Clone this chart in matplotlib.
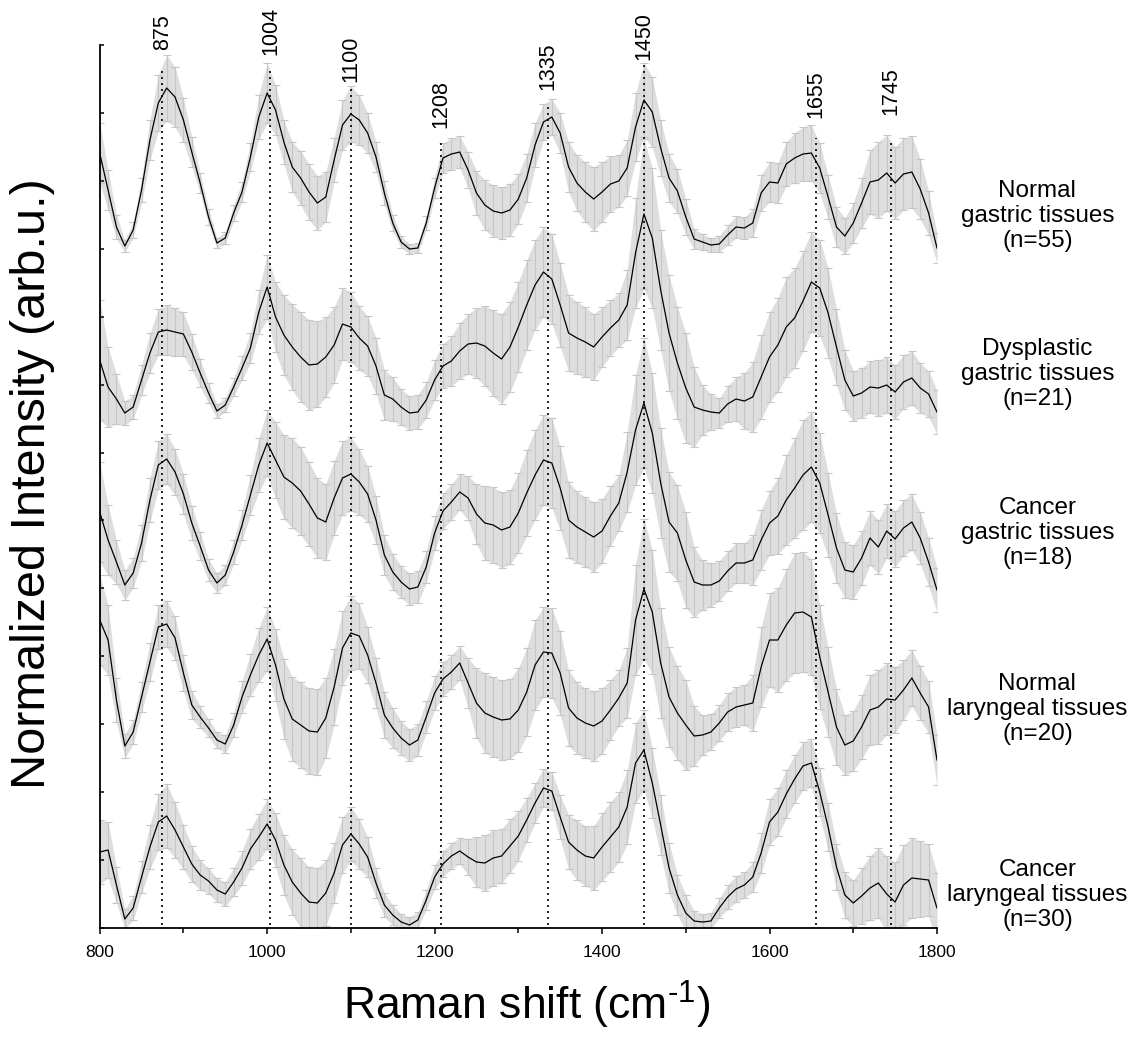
import numpy as np
import matplotlib
matplotlib.use("Agg")
import matplotlib.pyplot as plt

plt.rcParams['font.family'] = ['Liberation Sans', 'DejaVu Sans']
plt.rcParams['mathtext.fontset'] = 'custom'
plt.rcParams['mathtext.rm'] = 'Liberation Sans'
plt.rcParams['mathtext.it'] = 'Liberation Sans:italic'

# Raman shift axis (cm-1), one sample every 10 cm-1
shift = np.arange(800, 1801, 10)

# mean spectra, already stacked with their vertical offsets (arb.u.)
normal_gastric = [
    775, 738, 701, 682, 698, 738, 788, 825, 840, 831,
    808, 776, 745, 711, 685, 690, 715, 736, 771, 811,
    835, 818, 786, 761, 750, 736, 725, 731, 768, 803,
    814, 808, 795, 771, 735, 705, 686, 679, 680, 705,
    740, 770, 774, 776, 758, 735, 723, 717, 715, 718,
    729, 750, 783, 806, 811, 795, 761, 745, 736, 729,
    736, 744, 747, 760, 801, 828, 816, 780, 750, 737,
    711, 689, 686, 683, 684, 693, 701, 700, 705, 735,
    746, 745, 764, 770, 774, 775, 760, 731, 701, 692,
    705, 725, 746, 748, 755, 745, 754, 756, 739, 715,
    680]
normal_gastric_sd = [
    30, 20, 12, 6, 8, 12, 20, 28, 33, 30,
    22, 15, 10, 8, 5, 6, 8, 10, 14, 22,
    30, 25, 22, 25, 27, 28, 27, 25, 22, 25,
    28, 25, 20, 15, 12, 8, 6, 5, 5, 7,
    10, 15, 16, 16, 18, 22, 25, 26, 26, 26,
    25, 24, 22, 18, 18, 20, 25, 28, 30, 32,
    30, 28, 26, 28, 34, 37, 35, 28, 24, 22,
    18, 10, 8, 7, 8, 10, 11, 11, 14, 18,
    20, 20, 22, 25, 27, 28, 25, 22, 20, 18,
    20, 25, 32, 38, 38, 36, 36, 36, 30, 22,
    15]

dysplastic_gastric = [
    568, 541, 529, 515, 521, 548, 575, 596, 598, 596,
    594, 576, 555, 535, 517, 523, 541, 560, 580, 616,
    641, 611, 593, 581, 571, 563, 564, 571, 583, 604,
    601, 590, 582, 562, 533, 529, 521, 515, 516, 528,
    548, 562, 567, 577, 584, 585, 582, 575, 569, 581,
    601, 623, 643, 656, 649, 623, 595, 590, 586, 581,
    591, 600, 608, 623, 675, 714, 690, 638, 595, 565,
    540, 521, 518, 516, 515, 524, 529, 527, 531, 551,
    571, 583, 601, 610, 627, 646, 640, 615, 581, 548,
    532, 535, 541, 540, 543, 536, 546, 550, 540, 534,
    516]
dysplastic_gastric_sd = [
    60, 40, 25, 12, 12, 15, 20, 23, 25, 24,
    22, 18, 14, 10, 7, 7, 9, 12, 15, 22,
    32, 35, 40, 43, 45, 45, 43, 40, 38, 36,
    35, 32, 30, 28, 25, 22, 18, 17, 17, 18,
    20, 22, 25, 28, 30, 35, 40, 43, 45, 45,
    45, 45, 45, 45, 45, 42, 38, 36, 35, 33,
    30, 28, 27, 35, 55, 75, 70, 60, 58, 56,
    55, 40, 25, 18, 15, 18, 22, 28, 35, 42,
    45, 47, 50, 50, 50, 50, 48, 45, 38, 30,
    25, 25, 26, 28, 28, 27, 27, 27, 25, 23,
    22]

cancer_gastric = [
    416, 388, 366, 343, 355, 385, 428, 463, 469, 456,
    434, 405, 382, 358, 345, 353, 376, 403, 433, 463,
    485, 468, 451, 445, 437, 424, 410, 406, 430, 450,
    454, 446, 434, 408, 373, 356, 346, 339, 341, 361,
    395, 417, 426, 436, 430, 414, 405, 403, 398, 401,
    415, 435, 453, 468, 465, 440, 408, 401, 396, 391,
    397, 412, 425, 456, 498, 525, 495, 445, 406, 395,
    368, 346, 343, 343, 347, 357, 365, 365, 368, 388,
    405, 412, 428, 440, 453, 461, 445, 413, 380, 358,
    356, 370, 390, 381, 397, 389, 400, 406, 390, 366,
    338]
cancer_gastric_sd = [
    50, 35, 22, 15, 15, 18, 22, 24, 25, 23,
    20, 17, 14, 11, 10, 10, 12, 15, 20, 27,
    33, 38, 42, 45, 44, 42, 40, 38, 37, 37,
    37, 33, 28, 24, 20, 18, 16, 16, 16, 16,
    17, 18, 18, 18, 22, 30, 37, 38, 38, 37,
    40, 43, 45, 45, 45, 42, 38, 36, 35, 35,
    32, 30, 28, 40, 55, 65, 60, 55, 50, 48,
    48, 35, 25, 22, 20, 20, 20, 20, 25, 30,
    32, 38, 45, 50, 55, 55, 50, 42, 35, 28,
    27, 27, 27, 27, 27, 28, 28, 28, 26, 24,
    22]

normal_laryngeal = [
    308, 288, 228, 182, 196, 231, 266, 301, 304, 290,
    255, 223, 211, 200, 188, 184, 203, 231, 253, 273,
    289, 263, 229, 209, 203, 197, 196, 210, 241, 280,
    295, 292, 273, 245, 213, 200, 190, 183, 188, 211,
    235, 249, 256, 265, 245, 225, 215, 211, 208, 209,
    218, 236, 263, 276, 275, 255, 220, 210, 205, 202,
    207, 218, 230, 245, 308, 339, 316, 265, 231, 215,
    203, 192, 193, 196, 205, 216, 221, 223, 225, 261,
    288, 288, 303, 315, 316, 311, 271, 236, 201, 183,
    187, 201, 218, 221, 229, 228, 238, 250, 235, 221,
    168]
normal_laryngeal_sd = [
    45, 35, 22, 12, 12, 15, 19, 22, 23, 22,
    18, 14, 11, 9, 8, 9, 12, 16, 21, 27,
    32, 36, 40, 42, 43, 43, 43, 40, 38, 37,
    37, 33, 28, 25, 23, 20, 17, 16, 16, 16,
    17, 17, 17, 17, 25, 35, 40, 40, 40, 40,
    42, 44, 45, 45, 45, 42, 38, 36, 35, 35,
    33, 30, 28, 35, 55, 70, 62, 55, 50, 47,
    45, 30, 20, 18, 18, 19, 20, 20, 28, 40,
    47, 52, 56, 60, 60, 58, 52, 45, 38, 30,
    30, 32, 35, 37, 36, 33, 30, 28, 27, 26,
    25]

cancer_laryngeal = [
    76, 78, 43, 9, 20, 51, 81, 106, 112, 98,
    81, 64, 53, 47, 38, 34, 46, 60, 79, 91,
    104, 88, 63, 46, 35, 26, 25, 35, 55, 83,
    94, 84, 71, 45, 23, 13, 6, 3, 8, 28,
    51, 64, 72, 77, 71, 66, 65, 70, 72, 82,
    92, 108, 125, 140, 137, 111, 86, 78, 72, 70,
    81, 91, 101, 121, 165, 178, 145, 103, 60, 33,
    15, 7, 6, 7, 20, 31, 39, 43, 51, 75,
    106, 116, 134, 149, 162, 165, 136, 101, 61, 33,
    25, 32, 40, 45, 34, 26, 43, 50, 49, 48,
    20]
cancer_laryngeal_sd = [
    32, 28, 18, 10, 12, 16, 22, 28, 32, 28,
    22, 18, 15, 13, 12, 12, 14, 17, 20, 23,
    25, 27, 30, 33, 35, 35, 35, 33, 30, 28,
    27, 25, 20, 15, 12, 10, 8, 8, 8, 10,
    12, 13, 13, 13, 18, 25, 28, 28, 27, 27,
    25, 22, 20, 19, 19, 22, 27, 30, 30, 32,
    34, 35, 35, 37, 40, 40, 35, 30, 25, 20,
    18, 10, 8, 8, 10, 12, 13, 13, 15, 20,
    23, 24, 24, 24, 24, 24, 24, 24, 23, 23,
    23, 28, 32, 35, 38, 40, 40, 40, 38, 36,
    35]

spectra = [normal_gastric, dysplastic_gastric, cancer_gastric,
           normal_laryngeal, cancer_laryngeal]
spectra_sd = [normal_gastric_sd, dysplastic_gastric_sd, cancer_gastric_sd,
              normal_laryngeal_sd, cancer_laryngeal_sd]
group_names = ["Normal\ngastric tissues\n(n=55)",
               "Dysplastic\ngastric tissues\n(n=21)",
               "Cancer\ngastric tissues\n(n=18)",
               "Normal\nlaryngeal tissues\n(n=20)",
               "Cancer\nlaryngeal tissues\n(n=30)"]
group_label_y = [712, 554, 395, 219, 33]

# assigned bands
peaks = [875, 1004, 1100, 1208, 1335, 1450, 1655, 1745]
peak_line_top = [860, 858, 840, 785, 825, 863, 790, 788]
peak_label_y = [878, 873, 846, 800, 838, 868, 810, 813]

fig = plt.figure(figsize=(11.29, 10.38), dpi=100)
ax = fig.add_axes([0.0883, 0.10597, 0.7416, 0.85067])

for mean, sd in zip(spectra, spectra_sd):
    mean = np.array(mean, dtype=float)
    sd = np.array(sd, dtype=float)
    ax.fill_between(shift, mean - sd, mean + sd, color='#dedede', lw=0, zorder=1)
    ax.errorbar(shift, mean, yerr=sd, fmt='none', ecolor='#c6c6c6',
                elinewidth=0.8, capsize=3, capthick=0.8, zorder=2)
    ax.plot(shift, mean, color='black', lw=0.9, zorder=4)

ax.vlines(peaks, 3, peak_line_top, colors='black', linestyles=(0, (1.2, 2.4)),
          lw=1.2, zorder=3)
for p, ty in zip(peaks, peak_label_y):
    ax.text(p, ty, str(p), rotation=90, ha='center', va='bottom',
            fontsize=15.5, clip_on=False)

for name, gy in zip(group_names, group_label_y):
    ax.text(1920, gy, name, ha='center', va='center', fontsize=17.5,
            linespacing=1.15, clip_on=False)

ax.set_xlim(800, 1800)
ax.set_ylim(0, 883)
ax.set_xticks([800, 1000, 1200, 1400, 1600, 1800])
ax.set_xticks([900, 1100, 1300, 1500, 1700], minor=True)
ax.set_yticks(np.linspace(0, 883, 14))
ax.set_yticklabels([])
ax.tick_params(axis='x', which='major', direction='out', length=4.5, width=1.1,
               labelsize=12.5, pad=8)
ax.tick_params(axis='x', which='minor', direction='out', length=3.5, width=1.1)
ax.tick_params(axis='y', direction='in', length=3, width=1.1)
for side in ('top', 'right'):
    ax.spines[side].set_visible(False)
for side in ('left', 'bottom'):
    ax.spines[side].set_linewidth(1.3)

fig.text(33 / 1129, 1 - 484 / 1038, "Normalized Intensity (arb.u.)",
         rotation=90, ha='center', va='center', fontsize=35)
fig.text(527 / 1129, 1 - 1020 / 1038, r"Raman shift (cm$^{\text{-1}}$)",
         ha='center', va='baseline', fontsize=32)

fig.savefig("out.png", dpi=100)
